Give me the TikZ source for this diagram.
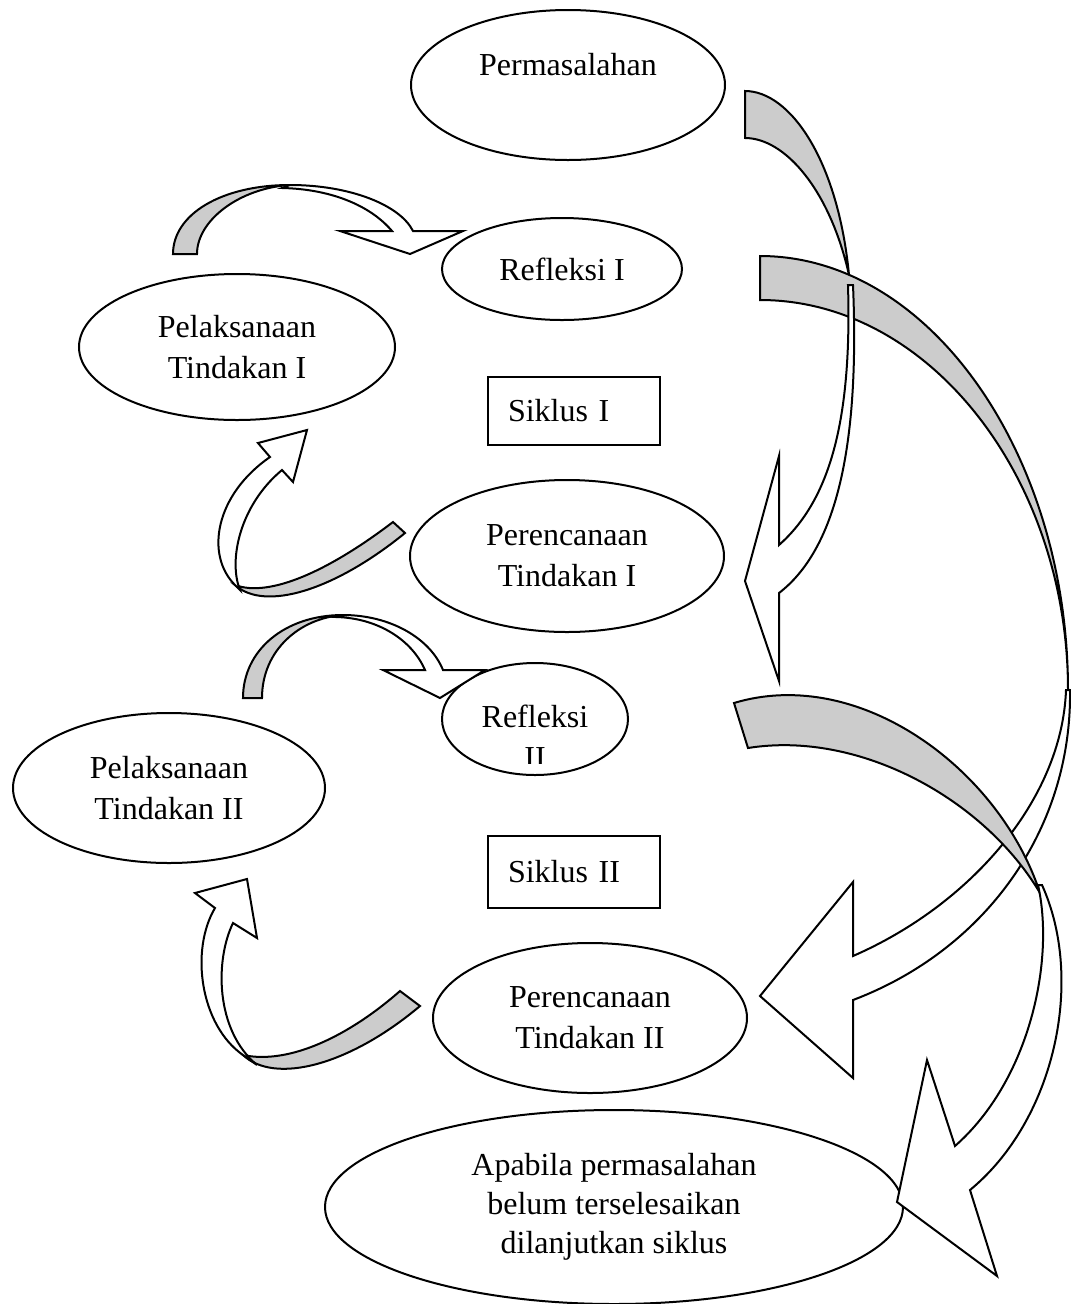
\documentclass[tikz,border=0pt]{standalone}
\usepackage{fontspec}
\setmainfont{Liberation Serif}
\usetikzlibrary{shapes.geometric}
\definecolor{backgray}{RGB}{204,204,204}
\tikzset{
  every node/.style={font=\fontsize{24}{30.75}\selectfont},
  oval/.style 2 args={ellipse, draw, line width=1.5pt, align=center, inner sep=0pt,
    minimum width=#1*1.5pt, minimum height=#2*1.5pt},
  sbox/.style={draw, line width=1.5pt, minimum width=129pt, text width=99pt,
    inner xsep=15pt, align=left},
  backside/.style={draw, line width=1.5pt, fill=backgray, line join=miter},
  frontside/.style={draw, line width=1.5pt, fill=white, line join=miter},
}
\begin{document}
\begin{tikzpicture}[x=0.75pt,y=0.75pt,yscale=-1,xscale=1]
\useasboundingbox (0,0) rectangle (1071,1304);

%Shape: Ellipse [Permasalahan]
\node[oval={157}{75}] (masalah) at (568,85) {Permasalahan\\\mbox{}};
%Shape: Ellipse [Refleksi I]
\node[oval={120}{51}] (refl1) at (562,269) {Refleksi I};
%Shape: Ellipse [Pelaksanaan I]
\node[oval={158}{73}] (laks1) at (237,347) {Pelaksanaan\\Tindakan I};
%Shape: Ellipse [Perencanaan I]
\node[oval={157}{76}] (renc1) at (567,556) {Perencanaan\\Tindakan I};
%Shape: Ellipse [Refleksi II]
\node[oval={93}{56}] (refl2) at (535,719) {};
\begin{scope}
\clip (440,663) rectangle (630,763);
% Text Node
\node[align=center] (refl2txt) at (535,737) {Refleksi\\II};
\end{scope}
%Shape: Ellipse [Pelaksanaan II]
\node[oval={156}{75}] (laks2) at (169,788) {Pelaksanaan\\Tindakan II};
%Shape: Ellipse [Perencanaan II]
\node[oval={157}{75}] (renc2) at (590,1018) {Perencanaan\\Tindakan II};
%Shape: Ellipse [lanjut]
\node[oval={289}{97}, font=\fontsize{24}{29.25}\selectfont] (lanjut) at (614,1207)
  {Apabila permasalahan\\belum terselesaikan\\dilanjutkan siklus};

%Shape: Rectangle [Siklus I]
\node[sbox, minimum height=51pt] (siklus1) at (574,411) {Siklus I};
%Shape: Rectangle [Siklus II]
\node[sbox, minimum height=54pt] (siklus2) at (574,872) {Siklus II};

%Curved Arrow: Refleksi I to Perencanaan II
\draw[backside] (760,256) .. controls (930,256) and (1068,455) .. (1068,690)
  .. controls (1068,479) and (930,300) .. (760,300) -- cycle;
\draw[frontside] (1066,690) .. controls (1062,800) and (970,905) .. (853,956)
  -- (853,882) -- (760,996) -- (853,1078) -- (853,1000)
  .. controls (985,950) and (1072,830) .. (1070,690) -- cycle;

%Curved Arrow: Refleksi II to lanjut
\draw[backside] (734,703) .. controls (860,665) and (1000,770) .. (1040,893)
  .. controls (985,800) and (860,730) .. (748,748) -- cycle;
\draw[frontside] (1038,885) .. controls (1055,960) and (1030,1080) .. (955,1146)
  -- (927,1060) -- (897,1202) -- (997,1276) -- (970,1190)
  .. controls (1055,1120) and (1085,980) .. (1042,885) -- cycle;

%Curved Arrow: Permasalahan to Perencanaan I
\draw[backside] (745,91) .. controls (790,91) and (838,160) .. (849,275)
  .. controls (830,190) and (785,138) .. (745,138) -- cycle;
\draw[frontside] (848,285) .. controls (852,420) and (830,500) .. (779,545)
  -- (779,456) -- (745,581) -- (779,681) -- (779,593)
  .. controls (835,550) and (860,450) .. (853,285) -- cycle;

%Curved Arrow: Pelaksanaan I to Refleksi I
\draw[backside] (173,254) .. controls (173,214) and (222,185) .. (290,185)
  .. controls (240,188) and (197,220) .. (197,254) -- cycle;
\draw[frontside] (290,185) .. controls (350,185) and (400,205) .. (413,231)
  -- (463,231) -- (410,254) -- (340,231) -- (392,231)
  .. controls (370,205) and (330,189) .. (282,188) -- cycle;

%Curved Arrow: Perencanaan I to Pelaksanaan I
\draw[backside] (393,522) .. controls (330,570) and (270,598) .. (235,585)
  .. controls (265,612) and (335,590) .. (405,533) -- cycle;
\draw[frontside] (235,585) .. controls (205,555) and (215,495) .. (270,457)
  -- (258,443) -- (307,430) -- (293,482) -- (282,470)
  .. controls (240,505) and (228,560) .. (240,590) -- cycle;

%Curved Arrow: Pelaksanaan II to Refleksi II
\draw[backside] (243,698) .. controls (243,650) and (285,615) .. (343,615)
  .. controls (300,618) and (262,650) .. (262,698) -- cycle;
\draw[frontside] (343,615) .. controls (390,615) and (430,638) .. (443,670)
  -- (485,670) -- (440,698) -- (383,670) -- (425,670)
  .. controls (412,640) and (378,618) .. (336,617) -- cycle;

%Curved Arrow: Perencanaan II to Pelaksanaan II
\draw[backside] (400,991) .. controls (350,1035) and (290,1065) .. (243,1055)
  .. controls (275,1085) and (350,1065) .. (420,1006) -- cycle;
\draw[frontside] (243,1055) .. controls (200,1025) and (190,950) .. (215,908)
  -- (195,893) -- (247,879) -- (257,938) -- (233,923)
  .. controls (215,960) and (215,1030) .. (257,1065) -- cycle;

\end{tikzpicture}
\end{document}
